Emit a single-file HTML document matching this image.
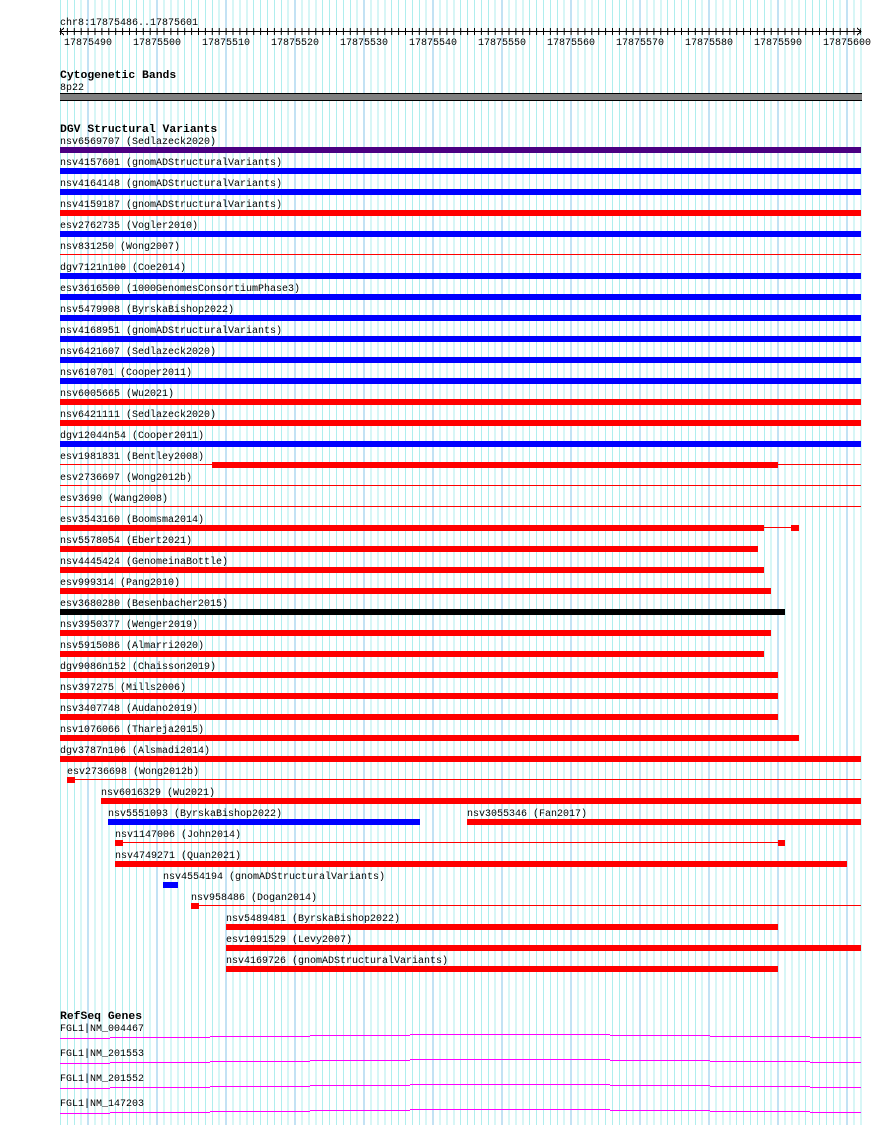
<!DOCTYPE html>
<html><head><meta charset="utf-8"><style>
html,body{margin:0;padding:0;background:#fff;}
svg text{font-family:"Liberation Mono","DejaVu Sans Mono",monospace;font-size:10px;fill:#000;}
svg text.b{font-weight:bold;font-size:11.4px;}
</style></head><body>
<svg width="890" height="1125" xmlns="http://www.w3.org/2000/svg" shape-rendering="crispEdges">
<defs>
<pattern id="g" patternUnits="userSpaceOnUse" x="60" y="0" width="69" height="10">
<rect x="0" y="0" width="1" height="10" fill="#afeeee"/><rect x="6.9" y="0" width="1" height="10" fill="#afeeee"/><rect x="13.8" y="0" width="1" height="10" fill="#afeeee"/><rect x="20.7" y="0" width="1" height="10" fill="#afeeee"/><rect x="27.6" y="0" width="1" height="10" fill="#87c5ea"/><rect x="34.5" y="0" width="1" height="10" fill="#afeeee"/><rect x="41.4" y="0" width="1" height="10" fill="#afeeee"/><rect x="48.3" y="0" width="1" height="10" fill="#afeeee"/><rect x="55.2" y="0" width="1" height="10" fill="#afeeee"/><rect x="62.1" y="0" width="1" height="10" fill="#afeeee"/>
</pattern>
<pattern id="t" patternUnits="userSpaceOnUse" x="60" y="0" width="6.9" height="10">
<rect x="0" y="0" width="1" height="10" fill="#000"/>
</pattern>
</defs>
<rect x="60" y="0" width="802" height="1125" fill="url(#g)"/>
<!-- ruler -->
<text x="60" y="25">chr8:17875486..17875601</text>
<rect x="60" y="31" width="801" height="1" fill="#000"/>
<rect x="60" y="28" width="801" height="7" fill="url(#t)"/>
<path d="M64 28 L60 31.5 L64 35 M857 28 L861 31.5 L857 35" stroke="#000" fill="none"/>
<g text-anchor="middle">
<text x="88" y="45">17875490</text><text x="157" y="45">17875500</text><text x="226" y="45">17875510</text><text x="295" y="45">17875520</text><text x="364" y="45">17875530</text><text x="433" y="45">17875540</text><text x="502" y="45">17875550</text><text x="571" y="45">17875560</text><text x="640" y="45">17875570</text><text x="709" y="45">17875580</text><text x="778" y="45">17875590</text><text x="847" y="45">17875600</text>
</g>
<!-- cyto -->
<text class="b" x="60" y="78">Cytogenetic Bands</text>
<text x="60" y="90">8p22</text>
<rect x="60" y="93" width="802" height="8" fill="#000"/>
<rect x="60" y="94" width="802" height="6" fill="#808080"/>
<!-- DGV -->
<text class="b" x="60" y="132">DGV Structural Variants</text>
<g id="rows">
<text x="60" y="144">nsv6569707 (Sedlazeck2020)</text><rect x="60" y="147" width="801" height="6" fill="#4b0082"/>
<text x="60" y="165">nsv4157601 (gnomADStructuralVariants)</text><rect x="60" y="168" width="801" height="6" fill="#00f"/>
<text x="60" y="186">nsv4164148 (gnomADStructuralVariants)</text><rect x="60" y="189" width="801" height="6" fill="#00f"/>
<text x="60" y="207">nsv4159187 (gnomADStructuralVariants)</text><rect x="60" y="210" width="801" height="6" fill="#f00"/>
<text x="60" y="228">esv2762735 (Vogler2010)</text><rect x="60" y="231" width="801" height="6" fill="#00f"/>
<text x="60" y="249">nsv831250 (Wong2007)</text><rect x="60" y="254" width="801" height="1" fill="#f00"/>
<text x="60" y="270">dgv7121n100 (Coe2014)</text><rect x="60" y="273" width="801" height="6" fill="#00f"/>
<text x="60" y="291">esv3616500 (1000GenomesConsortiumPhase3)</text><rect x="60" y="294" width="801" height="6" fill="#00f"/>
<text x="60" y="312">nsv5479908 (ByrskaBishop2022)</text><rect x="60" y="315" width="801" height="6" fill="#00f"/>
<text x="60" y="333">nsv4168951 (gnomADStructuralVariants)</text><rect x="60" y="336" width="801" height="6" fill="#00f"/>
<text x="60" y="354">nsv6421607 (Sedlazeck2020)</text><rect x="60" y="357" width="801" height="6" fill="#00f"/>
<text x="60" y="375">nsv610701 (Cooper2011)</text><rect x="60" y="378" width="801" height="6" fill="#00f"/>
<text x="60" y="396">nsv6005665 (Wu2021)</text><rect x="60" y="399" width="801" height="6" fill="#f00"/>
<text x="60" y="417">nsv6421111 (Sedlazeck2020)</text><rect x="60" y="420" width="801" height="6" fill="#f00"/>
<text x="60" y="438">dgv12044n54 (Cooper2011)</text><rect x="60" y="441" width="801" height="6" fill="#00f"/>
<text x="60" y="459">esv1981831 (Bentley2008)</text><rect x="60" y="464" width="801" height="1" fill="#f00"/><rect x="212" y="462" width="566" height="6" fill="#f00"/>
<text x="60" y="480">esv2736697 (Wong2012b)</text><rect x="60" y="485" width="801" height="1" fill="#f00"/>
<text x="60" y="501">esv3690 (Wang2008)</text><rect x="60" y="506" width="801" height="1" fill="#f00"/>
<text x="60" y="522">esv3543160 (Boomsma2014)</text><rect x="60" y="525" width="704" height="6" fill="#f00"/><rect x="764" y="527" width="27" height="1" fill="#f00"/><rect x="791" y="525" width="8" height="6" fill="#f00"/>
<text x="60" y="543">nsv5578054 (Ebert2021)</text><rect x="60" y="546" width="698" height="6" fill="#f00"/>
<text x="60" y="564">nsv4445424 (GenomeinaBottle)</text><rect x="60" y="567" width="704" height="6" fill="#f00"/>
<text x="60" y="585">esv999314 (Pang2010)</text><rect x="60" y="588" width="711" height="6" fill="#f00"/>
<text x="60" y="606">esv3680280 (Besenbacher2015)</text><rect x="60" y="609" width="725" height="6" fill="#000"/>
<text x="60" y="627">nsv3950377 (Wenger2019)</text><rect x="60" y="630" width="711" height="6" fill="#f00"/>
<text x="60" y="648">nsv5915086 (Almarri2020)</text><rect x="60" y="651" width="704" height="6" fill="#f00"/>
<text x="60" y="669">dgv9086n152 (Chaisson2019)</text><rect x="60" y="672" width="718" height="6" fill="#f00"/>
<text x="60" y="690">nsv397275 (Mills2006)</text><rect x="60" y="693" width="718" height="6" fill="#f00"/>
<text x="60" y="711">nsv3407748 (Audano2019)</text><rect x="60" y="714" width="718" height="6" fill="#f00"/>
<text x="60" y="732">nsv1076066 (Thareja2015)</text><rect x="60" y="735" width="739" height="6" fill="#f00"/>
<text x="60" y="753">dgv3787n106 (Alsmadi2014)</text><rect x="60" y="756" width="801" height="6" fill="#f00"/>
<text x="67" y="774">esv2736698 (Wong2012b)</text><rect x="67" y="779" width="794" height="1" fill="#f00"/><rect x="67" y="777" width="8" height="6" fill="#f00"/>
<text x="101" y="795">nsv6016329 (Wu2021)</text><rect x="101" y="798" width="760" height="6" fill="#f00"/>
<text x="108" y="816">nsv5551093 (ByrskaBishop2022)</text><rect x="108" y="819" width="312" height="6" fill="#00f"/>
<text x="467" y="816">nsv3055346 (Fan2017)</text><rect x="467" y="819" width="394" height="6" fill="#f00"/>
<text x="115" y="837">nsv1147006 (John2014)</text><rect x="115" y="842" width="670" height="1" fill="#f00"/><rect x="115" y="840" width="8" height="6" fill="#f00"/><rect x="778" y="840" width="7" height="6" fill="#f00"/>
<text x="115" y="858">nsv4749271 (Quan2021)</text><rect x="115" y="861" width="732" height="6" fill="#f00"/>
<text x="163" y="879">nsv4554194 (gnomADStructuralVariants)</text><rect x="163" y="882" width="15" height="6" fill="#00f"/>
<text x="191" y="900">nsv958486 (Dogan2014)</text><rect x="191" y="905" width="670" height="1" fill="#f00"/><rect x="191" y="903" width="8" height="6" fill="#f00"/>
<text x="226" y="921">nsv5489481 (ByrskaBishop2022)</text><rect x="226" y="924" width="552" height="6" fill="#f00"/>
<text x="226" y="942">esv1091529 (Levy2007)</text><rect x="226" y="945" width="635" height="6" fill="#f00"/>
<text x="226" y="963">nsv4169726 (gnomADStructuralVariants)</text><rect x="226" y="966" width="552" height="6" fill="#f00"/>
</g>
<!-- RefSeq -->
<text class="b" x="60" y="1019">RefSeq Genes</text>
<text x="60" y="1031">FGL1|NM_004467</text>
<text x="60" y="1056">FGL1|NM_201553</text>
<text x="60" y="1081">FGL1|NM_201552</text>
<text x="60" y="1106">FGL1|NM_147203</text>
<g fill="#f0f">
<rect x="60" y="1038" width="50" height="1"/><rect x="110" y="1037" width="100" height="1"/><rect x="210" y="1036" width="100" height="1"/><rect x="310" y="1035" width="100" height="1"/><rect x="410" y="1034" width="100" height="1"/><rect x="510" y="1034" width="100" height="1"/><rect x="610" y="1035" width="100" height="1"/><rect x="710" y="1036" width="100" height="1"/><rect x="810" y="1037" width="51" height="1"/>
<rect x="60" y="1063" width="50" height="1"/><rect x="110" y="1062" width="100" height="1"/><rect x="210" y="1061" width="100" height="1"/><rect x="310" y="1060" width="100" height="1"/><rect x="410" y="1059" width="100" height="1"/><rect x="510" y="1059" width="100" height="1"/><rect x="610" y="1060" width="100" height="1"/><rect x="710" y="1061" width="100" height="1"/><rect x="810" y="1062" width="51" height="1"/>
<rect x="60" y="1088" width="50" height="1"/><rect x="110" y="1087" width="100" height="1"/><rect x="210" y="1086" width="100" height="1"/><rect x="310" y="1085" width="100" height="1"/><rect x="410" y="1084" width="100" height="1"/><rect x="510" y="1084" width="100" height="1"/><rect x="610" y="1085" width="100" height="1"/><rect x="710" y="1086" width="100" height="1"/><rect x="810" y="1087" width="51" height="1"/>
<rect x="60" y="1113" width="50" height="1"/><rect x="110" y="1112" width="100" height="1"/><rect x="210" y="1111" width="100" height="1"/><rect x="310" y="1110" width="100" height="1"/><rect x="410" y="1109" width="100" height="1"/><rect x="510" y="1109" width="100" height="1"/><rect x="610" y="1110" width="100" height="1"/><rect x="710" y="1111" width="100" height="1"/><rect x="810" y="1112" width="51" height="1"/>
</g>
</svg>
</body></html>
